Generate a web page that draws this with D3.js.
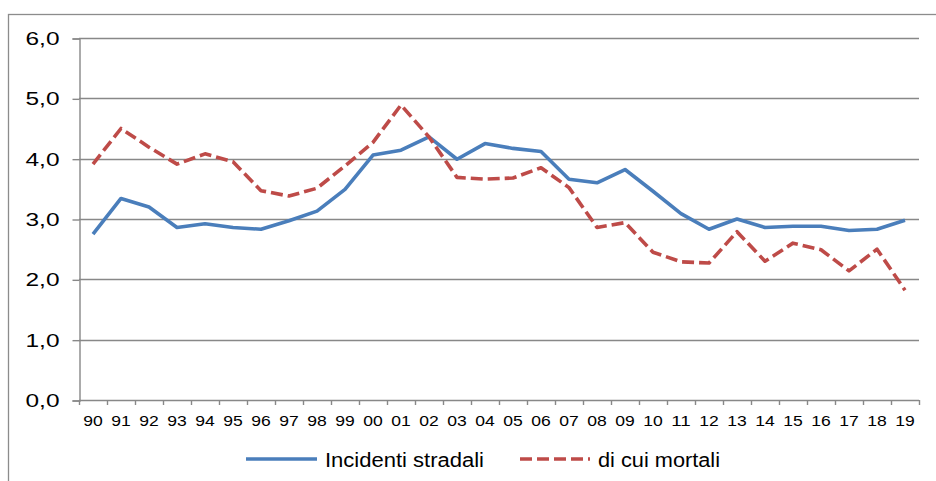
<!DOCTYPE html>
<meta charset="utf-8">
<html lang="it">

<head>
    <meta charset="utf-8">
    <style>
        body { margin: 0; background: #fff; }
        svg { display: block; font-family: "Liberation Sans", Arial, sans-serif; }
    </style>
</head>

<body>
    <div id="my_dataviz"></div>
    <script src="https://d3js.org/d3.v7.min.js"></script>

    <script>
        // categories (years, two digits)
        var years = ["90", "91", "92", "93", "94", "95", "96", "97", "98", "99",
            "00", "01", "02", "03", "04", "05", "06", "07", "08", "09",
            "10", "11", "12", "13", "14", "15", "16", "17", "18", "19"];

        // series values
        var incidenti = [2.75, 3.34, 3.20, 2.86, 2.92, 2.86, 2.83, 2.97, 3.13, 3.49,
            4.06, 4.14, 4.36, 3.99, 4.25, 4.17, 4.12, 3.66, 3.60, 3.82,
            3.46, 3.09, 2.83, 3.00, 2.86, 2.88, 2.88, 2.81, 2.83, 2.98];
        var mortali = [3.91, 4.50, 4.19, 3.91, 4.08, 3.95, 3.47, 3.38, 3.51, 3.88,
            4.27, 4.89, 4.36, 3.69, 3.66, 3.68, 3.85, 3.52, 2.86, 2.94,
            2.45, 2.29, 2.27, 2.79, 2.30, 2.60, 2.49, 2.14, 2.50, 1.82];

        var yTicks = [0, 1, 2, 3, 4, 5, 6];
        var seriesNames = ["Incidenti stradali", "di cui mortali"];

        var W = 936, H = 481;
        var plot = { left: 79, right: 919, top: 38, bottom: 400 };
        var grey = "#888888";
        var colors = ["#4A7EBB", "#BE4B48"];
        var dash = "12,5";

        var svg = d3.select("#my_dataviz")
            .append("svg")
            .attr("width", W)
            .attr("height", H);

        // outer frame (cropped at right and bottom)
        svg.append("rect")
            .attr("x", 8.5).attr("y", 14.5)
            .attr("width", W + 20).attr("height", H + 20)
            .attr("fill", "none")
            .attr("stroke", "#8c8c8c")
            .attr("stroke-width", 1.3);

        var x = d3.scaleBand()
            .domain(years)
            .range([plot.left, plot.right])
            .padding(0);

        var y = d3.scaleLinear()
            .domain([0, 6])
            .range([plot.bottom, plot.top]);

        // gridlines
        svg.append("g")
            .selectAll("line")
            .data(yTicks.slice(1))
            .enter()
            .append("line")
            .attr("x1", plot.left).attr("x2", plot.right)
            .attr("y1", function (d) { return Math.round(y(d)) + 0.5 })
            .attr("y2", function (d) { return Math.round(y(d)) + 0.5 })
            .attr("stroke", grey)
            .attr("stroke-width", 1.4);

        // Y axis
        var yAxis = svg.append("g")
            .attr("transform", "translate(" + (plot.left + 0.5) + ",0.5)")
            .call(d3.axisLeft(y)
                .tickValues(yTicks)
                .tickSize(7)
                .tickPadding(13)
                .tickFormat(function (d) { return d.toFixed(1).replace(".", ","); }));
        yAxis.select(".domain").attr("stroke", grey).attr("stroke-width", 1.4);
        yAxis.selectAll(".tick line").attr("stroke", grey).attr("stroke-width", 1.4);
        yAxis.selectAll(".tick text")
            .attr("fill", "#000")
            .attr("textLength", 34)
            .attr("lengthAdjust", "spacingAndGlyphs")
            .style("font-size", "19px")
            .style("font-family", "Liberation Sans, Arial, sans-serif");

        // X axis
        var xg = svg.append("g");
        xg.append("line")
            .attr("x1", plot.left).attr("x2", plot.right)
            .attr("y1", plot.bottom + 0.5).attr("y2", plot.bottom + 0.5)
            .attr("stroke", grey).attr("stroke-width", 1.4);
        xg.selectAll(".xtick")
            .data(years.concat(["end"]))
            .enter()
            .append("line")
            .attr("x1", function (d) { return (d === "end" ? plot.right : x(d)) + 0.5 })
            .attr("x2", function (d) { return (d === "end" ? plot.right : x(d)) + 0.5 })
            .attr("y1", plot.bottom)
            .attr("y2", plot.bottom + 5)
            .attr("stroke", grey).attr("stroke-width", 1.4);
        xg.selectAll(".xlabel")
            .data(years)
            .enter()
            .append("text")
            .attr("x", function (d) { return x(d) + x.bandwidth() / 2 })
            .attr("y", 426)
            .attr("text-anchor", "middle")
            .attr("textLength", 19.5)
            .attr("lengthAdjust", "spacingAndGlyphs")
            .style("font-size", "15.5px")
            .text(function (d) { return d });

        // lines
        var line = d3.line()
            .x(function (d, i) { return x(years[i]) + x.bandwidth() / 2 })
            .y(function (d) { return y(d) });

        svg.append("path")
            .attr("d", line(incidenti))
            .attr("fill", "none")
            .attr("stroke", colors[0])
            .attr("stroke-width", 3.6)
            .attr("stroke-linejoin", "round");

        svg.append("path")
            .attr("d", line(mortali))
            .attr("fill", "none")
            .attr("stroke", colors[1])
            .attr("stroke-width", 3.6)
            .attr("stroke-dasharray", dash)
            .attr("stroke-linejoin", "round");

        // legend
        var legendPos = [{ x1: 246, x2: 317, tx: 325, len: 159 }, { x1: 520, x2: 590, tx: 598, len: 122 }];
        var legend = svg.selectAll(".legend")
            .data(seriesNames)
            .enter()
            .append("g");
        legend.append("line")
            .attr("x1", function (d, i) { return legendPos[i].x1 })
            .attr("x2", function (d, i) { return legendPos[i].x2 })
            .attr("y1", 459).attr("y2", 459)
            .attr("stroke", function (d, i) { return colors[i] })
            .attr("stroke-width", 3.6)
            .attr("stroke-dasharray", function (d, i) { return i === 1 ? dash : null });
        legend.append("text")
            .attr("x", function (d, i) { return legendPos[i].tx })
            .attr("y", 467)
            .attr("textLength", function (d, i) { return legendPos[i].len })
            .attr("lengthAdjust", "spacingAndGlyphs")
            .style("font-size", "20px")
            .text(function (d) { return d });
    </script>
</body>

</html>
